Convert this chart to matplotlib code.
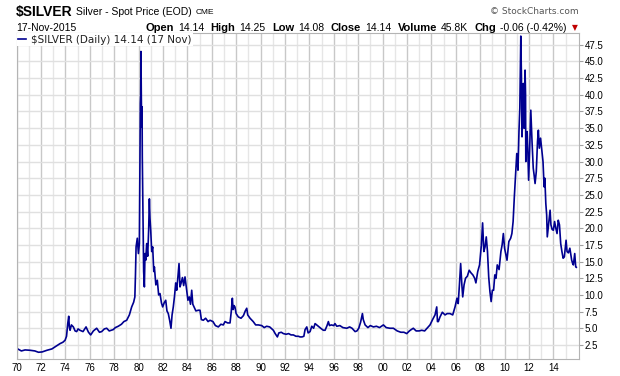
import matplotlib
matplotlib.use("Agg")
import matplotlib.pyplot as plt

# $SILVER daily close (decimal year, price)
years = [1970.00, 1970.4, 1970.7, 1971.1, 1971.5, 1971.8, 1972.1, 1972.5, 1972.9, 1973.15,
         1973.4, 1973.57, 1973.8, 1973.98, 1974.1, 1974.2, 1974.28, 1974.33, 1974.39, 1974.5,
         1974.66, 1974.8, 1974.93, 1975.05, 1975.2, 1975.45, 1975.7, 1975.9, 1976.08, 1976.3,
         1976.57, 1976.8, 1976.98, 1977.2, 1977.39, 1977.6, 1977.93, 1978.1, 1978.34, 1978.6,
         1978.8, 1979.03, 1979.25, 1979.44, 1979.6, 1979.7, 1979.75, 1979.8, 1979.9, 1979.99,
         1980.07, 1980.12, 1980.15, 1980.18, 1980.2, 1980.23, 1980.26, 1980.29, 1980.31, 1980.37,
         1980.42, 1980.48, 1980.53, 1980.59, 1980.67, 1980.75, 1980.83, 1980.89, 1980.94, 1981.0,
         1981.08, 1981.16, 1981.25, 1981.3, 1981.42, 1981.54, 1981.65, 1981.76, 1981.88, 1981.98,
         1982.1, 1982.23, 1982.33, 1982.44, 1982.55, 1982.66, 1982.75, 1982.85, 1982.95, 1983.05,
         1983.13, 1983.22, 1983.32, 1983.4, 1983.48, 1983.6, 1983.7, 1983.81, 1983.95, 1984.05,
         1984.16, 1984.26, 1984.36, 1984.45, 1984.55, 1984.7, 1984.9, 1985.04, 1985.15, 1985.31,
         1985.5, 1985.7, 1985.86, 1986.1, 1986.3, 1986.54, 1986.75, 1986.95, 1987.09, 1987.3,
         1987.5, 1987.6, 1987.69, 1987.75, 1987.82, 1987.9, 1988.0, 1988.18, 1988.4, 1988.6,
         1988.75, 1988.87, 1988.95, 1989.14, 1989.4, 1989.6, 1989.82, 1990.1, 1990.3, 1990.5,
         1990.75, 1991.05, 1991.2, 1991.38, 1991.5, 1991.7, 1991.87, 1992.1, 1992.3, 1992.5,
         1992.69, 1992.9, 1993.1, 1993.24, 1993.4, 1993.55, 1993.65, 1993.79, 1993.9, 1994.06,
         1994.2, 1994.35, 1994.47, 1994.6, 1994.8, 1995.0, 1995.15, 1995.29, 1995.45, 1995.56,
         1995.65, 1995.8, 1996.0, 1996.1, 1996.25, 1996.5, 1996.75, 1997.07, 1997.3, 1997.5,
         1997.75, 1997.9, 1998.05, 1998.2, 1998.35, 1998.42, 1998.57, 1998.8, 1999.0, 1999.25,
         1999.5, 1999.75, 2000.07, 2000.3, 2000.6, 2000.89, 2001.2, 2001.5, 2001.75, 2001.98,
         2002.2, 2002.35, 2002.52, 2002.75, 2003.0, 2003.21, 2003.45, 2003.65, 2003.89, 2004.1,
         2004.3, 2004.44, 2004.5, 2004.57, 2004.71, 2004.9, 2005.12, 2005.3, 2005.53, 2005.75,
         2005.94, 2006.1, 2006.2, 2006.3, 2006.4, 2006.5, 2006.57, 2006.68, 2006.8, 2006.95,
         2007.1, 2007.25, 2007.4, 2007.55, 2007.65, 2007.8, 2007.95, 2008.1, 2008.2, 2008.3,
         2008.4, 2008.5, 2008.6, 2008.7, 2008.8, 2008.9, 2009.0, 2009.1, 2009.2, 2009.3,
         2009.4, 2009.55, 2009.7, 2009.8, 2009.9, 2010.0, 2010.2, 2010.35, 2010.5, 2010.6,
         2010.7, 2010.8, 2010.9, 2011.0, 2011.1, 2011.18, 2011.25, 2011.33, 2011.38, 2011.43,
         2011.5, 2011.54, 2011.6, 2011.68, 2011.72, 2011.74, 2011.8, 2011.85, 2011.9, 2011.97,
         2012.05, 2012.15, 2012.25, 2012.35, 2012.42, 2012.5, 2012.6, 2012.7, 2012.77, 2012.85,
         2012.95, 2013.05, 2013.15, 2013.24, 2013.3, 2013.38, 2013.45, 2013.5, 2013.6, 2013.73,
         2013.8, 2013.9, 2014.0, 2014.1, 2014.2, 2014.3, 2014.4, 2014.5, 2014.6, 2014.7,
         2014.8, 2014.9, 2015.04, 2015.12, 2015.23, 2015.35, 2015.45, 2015.5, 2015.6, 2015.64,
         2015.75, 2015.83, 2015.88]
prices = [2.0, 1.6, 1.75, 1.7, 1.6, 1.4, 1.45, 1.7, 1.9, 2.2,
          2.5, 2.7, 2.9, 3.2, 3.8, 5.7, 6.8, 5.2, 4.7, 5.5,
          5.2, 4.6, 4.5, 4.9, 4.7, 4.5, 5.2, 4.4, 4.0, 4.6,
          5.0, 4.4, 4.5, 4.9, 5.0, 4.6, 4.8, 5.1, 5.3, 5.6,
          6.0, 6.2, 7.0, 8.2, 8.9, 9.7, 13.0, 17.2, 18.5, 16.2,
          17.7, 30.7, 38.7, 40.2, 46.5, 39.7, 35.2, 38.2, 30.7, 22.0,
          13.5, 11.2, 16.2, 15.2, 17.7, 15.8, 19.7, 24.4, 21.5, 19.7,
          16.5, 17.2, 13.5, 14.2, 11.5, 12.2, 10.0, 10.2, 8.8, 8.2,
          8.8, 9.2, 7.6, 7.2, 6.2, 5.0, 7.0, 8.2, 9.8, 11.8,
          10.7, 12.5, 14.7, 11.2, 11.7, 12.6, 11.4, 12.7, 10.7, 9.2,
          9.7, 8.6, 10.7, 8.6, 8.2, 7.6, 7.7, 7.7, 6.3, 6.2,
          6.5, 6.0, 6.2, 6.0, 5.4, 5.2, 5.6, 5.5, 6.0, 5.8,
          5.8, 7.5, 9.5, 7.8, 8.4, 8.2, 7.2, 6.7, 6.5, 6.9,
          7.6, 8.0, 7.0, 6.5, 6.0, 5.5, 5.5, 5.4, 5.1, 5.3,
          5.2, 4.7, 4.2, 3.7, 4.3, 4.4, 4.2, 4.1, 4.2, 4.0,
          4.0, 3.8, 3.8, 3.7, 3.7, 3.8, 4.8, 5.2, 4.3, 4.5,
          5.3, 5.0, 5.7, 5.5, 5.2, 4.9, 4.7, 4.7, 5.4, 6.0,
          5.4, 5.5, 5.4, 5.7, 5.3, 5.4, 5.1, 5.0, 5.2, 5.0,
          4.5, 4.6, 5.0, 5.9, 7.2, 6.3, 5.5, 5.1, 5.4, 5.2,
          5.3, 5.1, 5.5, 5.1, 5.0, 5.0, 4.6, 4.4, 4.4, 4.2,
          4.6, 4.8, 5.0, 4.6, 4.6, 4.7, 4.6, 5.0, 5.5, 6.3,
          7.0, 8.2, 6.0, 6.0, 6.7, 7.4, 7.0, 7.2, 7.2, 7.0,
          8.2, 9.5, 8.7, 11.5, 14.7, 11.5, 9.7, 11.5, 12.5, 12.8,
          13.7, 13.3, 13.0, 12.5, 11.8, 13.5, 14.5, 17.5, 20.8, 16.5,
          17.2, 18.7, 16.5, 12.7, 10.5, 9.0, 10.7, 10.7, 13.0, 12.5,
          14.5, 13.8, 16.5, 17.5, 19.2, 17.0, 15.2, 18.0, 18.5, 19.2,
          21.0, 24.7, 28.0, 31.2, 28.7, 34.5, 38.0, 48.8, 43.0, 33.7,
          37.5, 41.7, 35.0, 43.7, 40.0, 30.0, 33.0, 34.5, 32.0, 27.2,
          31.5, 37.7, 33.0, 29.0, 28.0, 26.7, 28.5, 33.0, 34.7, 32.0,
          33.5, 31.7, 30.0, 26.2, 27.5, 23.7, 22.0, 18.7, 20.5, 22.7,
          20.5, 19.8, 19.7, 21.0, 20.0, 19.2, 21.2, 20.5, 17.7, 16.5,
          15.5, 15.7, 18.2, 16.5, 16.3, 17.0, 15.8, 15.2, 14.6, 14.5,
          16.2, 14.2, 14.14]

x_ticks = [1970, 1972, 1974, 1976, 1978, 1980, 1982, 1984, 1986, 1988, 1990, 1992,
           1994, 1996, 1998, 2000, 2002, 2004, 2006, 2008, 2010, 2012, 2014]
x_labels = ["70", "72", "74", "76", "78", "80", "82", "84", "86", "88", "90", "92",
            "94", "96", "98", "00", "02", "04", "06", "08", "10", "12", "14"]
x_minor = [1971, 1973, 1975, 1977, 1979, 1981, 1983, 1985, 1987, 1989, 1991, 1993,
           1995, 1997, 1999, 2001, 2003, 2005, 2007, 2009, 2011, 2013, 2015]
y_ticks = [2.5, 5.0, 7.5, 10.0, 12.5, 15.0, 17.5, 20.0, 22.5, 25.0, 27.5, 30.0,
           32.5, 35.0, 37.5, 40.0, 42.5, 45.0, 47.5]

W, H = 620, 376
fig = plt.figure(figsize=(W / 100, H / 100), dpi=100)
ax = fig.add_axes([16.5 / W, 1 - 359 / H, (579 - 16.5) / W, (359 - 33) / H])

line, = ax.plot(years, prices, color="#000090", lw=1.2)

ax.set_xlim(1970, 2016.1)
ax.set_ylim(0.39, 49.27)
ax.set_xticks(x_ticks)
ax.set_xticklabels(x_labels)
ax.set_xticks(x_minor, minor=True)
ax.set_yticks(y_ticks)
ax.set_yticklabels(["%.1f" % v for v in y_ticks])
ax.yaxis.tick_right()

ax.grid(True, which="major", axis="x", color="#c8c8c8", lw=1)
ax.grid(True, which="minor", axis="x", color="#e6e6e6", lw=1)
ax.grid(True, which="major", axis="y", color="#e0e0e0", lw=1)
ax.set_axisbelow(True)

ax.tick_params(axis="x", which="both", length=0, pad=3, labelsize=7)
ax.tick_params(axis="y", length=3, color="#a0a0a0", pad=1, labelsize=7)
for lab in ax.get_xticklabels() + ax.get_yticklabels():
    lab.set_family("Liberation Sans")
for sp in ax.spines.values():
    sp.set_color("#b4b4b4")

leg = ax.legend([line], ["$SILVER (Daily) 14.14 (17 Nov)"], loc="upper left",
                bbox_to_anchor=(0, 1), borderaxespad=0, frameon=True, fancybox=False,
                edgecolor="none", framealpha=1, handlelength=0.8, handletextpad=0.4,
                borderpad=0.15, prop={"family": "DejaVu Sans", "size": 7.5})
leg.get_frame().set_linewidth(0)
for t in leg.get_texts():
    t.set_color("#222222")


def put(x, y, s, **kw):
    return fig.text(x / W, 1 - y / H, s, va="center", ha="left", **kw)


# header, placed piece by piece
fig.canvas.draw()
r = fig.canvas.get_renderer()


def chain(x, y, parts):
    for s, kw, gap in parts:
        t = put(x, y, s, **kw)
        x = t.get_window_extent(r).x1 + gap
    return x


bold = {"family": "Liberation Sans", "weight": "bold", "size": 8}
norm = {"family": "Liberation Sans", "size": 7.5}
chain(16, 12, [("$SILVER", {"family": "Liberation Sans", "weight": "bold", "size": 10}, 3),
               ("Silver - Spot Price (EOD)", {"family": "Liberation Sans", "size": 7.5}, 4),
               ("CME", {"family": "Liberation Sans", "size": 6}, 0)])
put(16, 28, "17-Nov-2015", **norm)
chain(145.5, 28, [("Open", bold, 4), ("14.14", norm, 6.5), ("High", bold, 4), ("14.25", norm, 6.5),
                  ("Low", bold, 4), ("14.08", norm, 6.5), ("Close", bold, 4), ("14.14", norm, 6.5),
                  ("Volume", bold, 4), ("45.8K", norm, 6.5), ("Chg", bold, 4),
                  ("-0.06 (-0.42%)", norm, 3)])
fig.text(575 / W, 1 - 28 / H, "\u25bc", color="#c00000", fontsize=5.5, ha="center", va="center",
         family="DejaVu Sans")
fig.text(579 / W, 1 - 11 / H, "\u00a9 StockCharts.com", color="#555555", fontsize=6.5,
         ha="right", va="center", family="DejaVu Sans")

fig.savefig("out.png", dpi=100)
